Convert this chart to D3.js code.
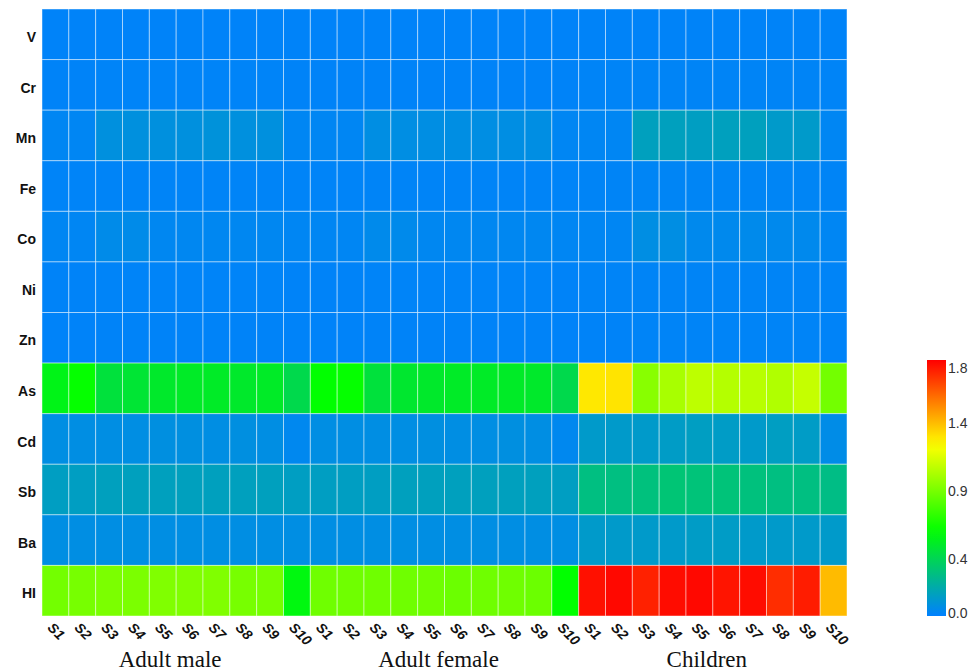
<!DOCTYPE html>
<html>
<head>
<meta charset="utf-8">
<script src="https://cdn.jsdelivr.net/npm/d3@7/dist/d3.min.js"></script>
<style>
  html, body { margin: 0; padding: 0; background: #fff; }
  svg { display: block; }
</style>
</head>
<body>
<svg id="chart" width="972" height="671"></svg>
<script>
// Risk indices (HQ per element, HI = hazard index) by population group and site
const elements = ["V", "Cr", "Mn", "Fe", "Co", "Ni", "Zn", "As", "Cd", "Sb", "Ba", "HI"];
const groups = ["Adult male", "Adult female", "Children"];
const sites = ["S1", "S2", "S3", "S4", "S5", "S6", "S7", "S8", "S9", "S10"];
const legendTicks = [0.0, 0.4, 0.9, 1.4, 1.8];

// one row per element: 10 adult male, 10 adult female, 10 children
const V  = [0.004,0.004,0.005,0.005,0.005,0.005,0.005,0.005,0.005,0.004, 0.004,0.004,0.005,0.005,0.005,0.005,0.005,0.005,0.005,0.004, 0.006,0.006,0.007,0.007,0.007,0.007,0.007,0.007,0.007,0.006];
const Cr = [0.006,0.006,0.008,0.008,0.008,0.008,0.008,0.008,0.008,0.006, 0.006,0.006,0.007,0.007,0.007,0.007,0.007,0.007,0.007,0.006, 0.009,0.009,0.011,0.011,0.011,0.011,0.011,0.011,0.011,0.009];
const Mn = [0.02,0.02,0.07,0.07,0.07,0.07,0.08,0.07,0.07,0.02, 0.02,0.02,0.06,0.06,0.06,0.06,0.06,0.06,0.06,0.02, 0.02,0.02,0.15,0.15,0.14,0.15,0.15,0.12,0.12,0.02];
const Fe = [0.008,0.008,0.01,0.01,0.01,0.01,0.01,0.01,0.01,0.008, 0.008,0.008,0.01,0.01,0.01,0.01,0.01,0.01,0.01,0.008, 0.012,0.012,0.015,0.015,0.015,0.015,0.015,0.015,0.015,0.012];
const Co = [0.02,0.02,0.045,0.045,0.025,0.025,0.025,0.025,0.025,0.02, 0.02,0.02,0.04,0.04,0.025,0.025,0.025,0.025,0.025,0.02, 0.02,0.02,0.06,0.06,0.035,0.035,0.04,0.035,0.035,0.02];
const Ni = [0.006,0.006,0.008,0.008,0.008,0.008,0.008,0.008,0.008,0.006, 0.006,0.006,0.008,0.008,0.008,0.008,0.008,0.008,0.008,0.006, 0.009,0.009,0.011,0.011,0.011,0.011,0.011,0.011,0.011,0.009];
const Zn = [0.004,0.004,0.006,0.006,0.006,0.006,0.006,0.006,0.006,0.004, 0.004,0.004,0.006,0.006,0.006,0.006,0.006,0.006,0.006,0.004, 0.007,0.007,0.009,0.009,0.009,0.009,0.009,0.009,0.009,0.007];
const As = [0.56,0.63,0.47,0.49,0.51,0.52,0.52,0.51,0.52,0.43, 0.62,0.63,0.47,0.50,0.51,0.52,0.52,0.52,0.51,0.43, 1.30,1.31,0.95,1.03,1.08,1.06,1.07,1.05,1.10,0.90];
const Cd = [0.06,0.06,0.06,0.06,0.065,0.065,0.06,0.065,0.06,0.03, 0.06,0.06,0.06,0.06,0.065,0.06,0.06,0.065,0.06,0.03, 0.12,0.12,0.12,0.13,0.14,0.13,0.12,0.14,0.13,0.05];
const Sb = [0.14,0.14,0.15,0.15,0.15,0.15,0.15,0.15,0.15,0.14, 0.14,0.14,0.14,0.15,0.15,0.15,0.15,0.15,0.15,0.14, 0.30,0.30,0.31,0.33,0.32,0.32,0.31,0.30,0.30,0.29];
const Ba = [0.06,0.06,0.06,0.06,0.06,0.06,0.06,0.06,0.06,0.06, 0.06,0.06,0.06,0.06,0.06,0.06,0.06,0.06,0.06,0.06, 0.12,0.12,0.12,0.12,0.13,0.13,0.12,0.12,0.12,0.12];
const HI = [0.90,0.91,0.92,0.92,0.93,0.93,0.93,0.91,0.91,0.58, 0.89,0.89,0.89,0.89,0.89,0.88,0.89,0.89,0.88,0.62, 1.83,1.85,1.79,1.84,1.85,1.82,1.84,1.76,1.80,1.41];

const rowsData = [V, Cr, Mn, Fe, Co, Ni, Zn, As, Cd, Sb, Ba, HI];

const svg = d3.select("#chart");
const plot = { left: 42, right: 847, top: 9, bottom: 616 };

const columns = [];
groups.forEach(g => sites.forEach(s => columns.push(g + "|" + s)));

const x = d3.scaleBand().domain(columns).range([plot.left, plot.right]);
const y = d3.scaleBand().domain(elements).range([plot.top, plot.bottom]);

// colour ramp: blue -> green -> yellow -> red over the data range
const lo = -0.01, hi = 1.87;
const rampColors = ["#0080ff", "#00ff00", "#ffff00", "#ff0000"];
const color = d3.scaleLinear()
  .domain(rampColors.map((_, i) => lo + i * (hi - lo) / (rampColors.length - 1)))
  .range(rampColors)
  .interpolate(d3.interpolateRgb)
  .clamp(true);

const cells = [];
elements.forEach((el, r) => {
  rowsData[r].forEach((v, c) => cells.push({ el, col: columns[c], v }));
});

svg.append("g").selectAll("rect")
  .data(cells)
  .join("rect")
  .attr("x", d => x(d.col))
  .attr("y", d => y(d.el))
  .attr("width", x.bandwidth())
  .attr("height", y.bandwidth())
  .attr("fill", d => color(d.v))
  .attr("stroke", "rgba(255,255,255,0.45)")
  .attr("stroke-width", 1);

// row labels
svg.append("g").selectAll("text")
  .data(elements)
  .join("text")
  .attr("x", 36)
  .attr("y", d => y(d) + y.bandwidth() / 2 + 4)
  .attr("text-anchor", "end")
  .attr("dominant-baseline", "middle")
  .attr("font-family", "Liberation Sans, Arial, sans-serif")
  .attr("font-weight", "bold")
  .attr("font-size", 14)
  .attr("fill", "#111")
  .text(d => d);

// column labels, slanted
svg.append("g").selectAll("text")
  .data(columns)
  .join("text")
  .attr("transform", d => `translate(${x(d) + x.bandwidth() / 2 - 6},${plot.bottom + 10}) rotate(45)`)
  .attr("font-family", "Liberation Sans, Arial, sans-serif")
  .attr("font-weight", "bold")
  .attr("font-style", "italic")
  .attr("font-size", 14)
  .attr("dominant-baseline", "middle")
  .attr("fill", "#111")
  .text(d => d.split("|")[1]);

// group labels
svg.append("g").selectAll("text")
  .data(groups)
  .join("text")
  .attr("x", g => {
    const first = x(g + "|" + sites[0]);
    const last = x(g + "|" + sites[sites.length - 1]) + x.bandwidth();
    return (first + last) / 2 - 6;
  })
  .attr("y", 667)
  .attr("text-anchor", "middle")
  .attr("font-family", "Liberation Serif, Times New Roman, serif")
  .attr("font-size", 23)
  .attr("fill", "#111")
  .text(d => d);

// colour legend
const leg = { x: 927, w: 19, top: 360, bottom: 616 };
const ly = d3.scaleLinear().domain([lo, hi]).range([leg.bottom, leg.top]);

const defs = svg.append("defs");
const grad = defs.append("linearGradient")
  .attr("id", "legGrad")
  .attr("x1", 0).attr("y1", 1).attr("x2", 0).attr("y2", 0);
d3.range(0, 1.0001, 0.05).forEach(t => {
  grad.append("stop")
    .attr("offset", t)
    .attr("stop-color", color(lo + t * (hi - lo)));
});

svg.append("rect")
  .attr("x", leg.x)
  .attr("y", leg.top)
  .attr("width", leg.w)
  .attr("height", leg.bottom - leg.top)
  .attr("fill", "url(#legGrad)");

svg.append("g").selectAll("text")
  .data(legendTicks)
  .join("text")
  .attr("x", leg.x + leg.w + 2)
  .attr("y", d => ly(d))
  .attr("dominant-baseline", "middle")
  .attr("font-family", "Liberation Sans, Arial, sans-serif")
  .attr("font-size", 14)
  .attr("fill", "#333")
  .text(d => d3.format(".1f")(d));
</script>
</body>
</html>
